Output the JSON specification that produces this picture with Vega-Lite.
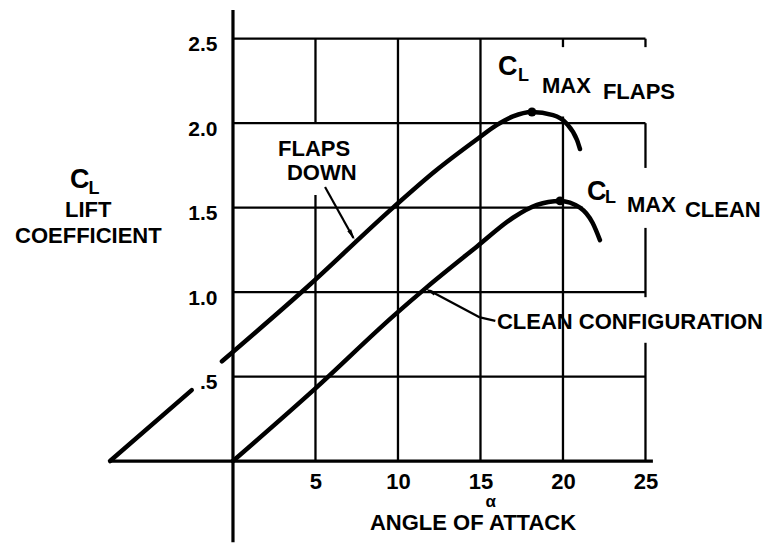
{
  "$schema": "https://vega.github.io/schema/vega-lite/v6.json",
  "width": 775,
  "height": 544,
  "autosize": "none",
  "padding": 0,
  "background": "white",
  "config": {
    "view": {"stroke": null},
    "font": "Liberation Sans",
    "axis": {"title": null, "grid": false, "domain": false, "ticks": false, "tickSize": 0, "labelColor": "black", "labelFont": "Liberation Sans", "labelFontWeight": "bold"}
  },
  "datasets": {
    "segs": [
      {"kind": "grid", "a": 5, "cl": 0, "a2": 5, "cl2": 1.575},
      {"kind": "grid", "a": 5, "cl": 2.0, "a2": 5, "cl2": 2.5},
      {"kind": "grid", "a": 10, "cl": 0, "a2": 10, "cl2": 2.5},
      {"kind": "grid", "a": 15, "cl": 0, "a2": 15, "cl2": 2.5},
      {"kind": "grid", "a": 20, "cl": 0, "a2": 20, "cl2": 2.04},
      {"kind": "grid", "a": 20, "cl": 2.45, "a2": 20, "cl2": 2.5},
      {"kind": "grid", "a": 25, "cl": 0, "a2": 25, "cl2": 0.7},
      {"kind": "grid", "a": 25, "cl": 0.97, "a2": 25, "cl2": 1.38},
      {"kind": "grid", "a": 25, "cl": 1.735, "a2": 25, "cl2": 2.0},
      {"kind": "grid", "a": 25, "cl": 2.45, "a2": 25, "cl2": 2.5},
      {"kind": "grid", "a": 0, "cl": 0.5, "a2": 25, "cl2": 0.5},
      {"kind": "grid", "a": 0, "cl": 1.0, "a2": 25, "cl2": 1.0},
      {"kind": "grid", "a": 0, "cl": 1.5, "a2": 21.2, "cl2": 1.5},
      {"kind": "grid", "a": 0, "cl": 2.0, "a2": 25, "cl2": 2.0},
      {"kind": "grid", "a": 0, "cl": 2.5, "a2": 25, "cl2": 2.5},
      {"kind": "axis", "a": -7.45, "cl": 0, "a2": 25.45, "cl2": 0},
      {"kind": "axis", "a": 0, "cl": -0.48, "a2": 0, "cl2": 2.67},
      {"kind": "leader", "a": 5.58, "cl": 1.622, "a2": 7.3, "cl2": 1.32},
      {"kind": "leader", "a": 11.9, "cl": 1.01, "a2": 14.97, "cl2": 0.85},
      {"kind": "leader", "a": 14.97, "cl": 0.85, "a2": 15.9, "cl2": 0.83}
    ],
    "curves": [
      {"seg": "flaps-1", "a": -7.45, "cl": 0},
      {"seg": "flaps-1", "a": -2.5, "cl": 0.42},
      {"seg": "flaps-2", "a": -0.67, "cl": 0.59},
      {"seg": "flaps-2", "a": 4.5, "cl": 1.03},
      {"seg": "flaps-2", "a": 9.7, "cl": 1.5},
      {"seg": "flaps-2", "a": 12.3, "cl": 1.72},
      {"seg": "flaps-2", "a": 14.79, "cl": 1.905},
      {"seg": "flaps-2", "a": 16.0, "cl": 1.99},
      {"seg": "flaps-2", "a": 16.97, "cl": 2.04},
      {"seg": "flaps-2", "a": 18.1, "cl": 2.066},
      {"seg": "flaps-2", "a": 19.4, "cl": 2.048},
      {"seg": "flaps-2", "a": 20.2, "cl": 2.0},
      {"seg": "flaps-2", "a": 20.85, "cl": 1.9},
      {"seg": "flaps-2", "a": 21.03, "cl": 1.847},
      {"seg": "clean", "a": 0, "cl": 0},
      {"seg": "clean", "a": 5, "cl": 0.43},
      {"seg": "clean", "a": 9.8, "cl": 0.865},
      {"seg": "clean", "a": 11.7, "cl": 1.025},
      {"seg": "clean", "a": 14.79, "cl": 1.27},
      {"seg": "clean", "a": 16.97, "cl": 1.44},
      {"seg": "clean", "a": 18.42, "cl": 1.516},
      {"seg": "clean", "a": 19.82, "cl": 1.54},
      {"seg": "clean", "a": 21.03, "cl": 1.5},
      {"seg": "clean", "a": 21.8, "cl": 1.409},
      {"seg": "clean", "a": 22.24, "cl": 1.308}
    ],
    "peaks": [
      {"name": "CL max flaps", "a": 18.12, "cl": 2.066},
      {"name": "CL max clean", "a": 19.82, "cl": 1.54}
    ],
    "heads": [
      {"name": "flaps down", "a": 7.21, "cl": 1.338},
      {"name": "clean configuration", "a": 11.94, "cl": 1.006}
    ],
    "bigtext": [
      {"t": "C", "a": -9.88, "cl": 1.665},
      {"t": "C", "a": 16.06, "cl": 2.333},
      {"t": "C", "a": 21.45, "cl": 1.593}
    ],
    "subtext": [
      {"t": "L", "a": -8.75, "cl": 1.608},
      {"t": "L", "a": 17.27, "cl": 2.279},
      {"t": "L", "a": 22.55, "cl": 1.557}
    ],
    "alpha": [
      {"t": "α", "a": 15.3, "cl": -0.245}
    ],
    "text": [
      {"t": "LIFT", "a": -10.18, "cl": 1.485},
      {"t": "COEFFICIENT", "a": -13.21, "cl": 1.333},
      {"t": "MAX", "a": 18.73, "cl": 2.22},
      {"t": "FLAPS", "a": 22.42, "cl": 2.185},
      {"t": "MAX", "a": 23.88, "cl": 1.516},
      {"t": "CLEAN", "a": 27.39, "cl": 1.486},
      {"t": "FLAPS", "a": 2.73, "cl": 1.847},
      {"t": "DOWN", "a": 3.27, "cl": 1.705},
      {"t": "CLEAN CONFIGURATION", "a": 16.0, "cl": 0.823},
      {"t": "ANGLE OF ATTACK", "a": 8.3, "cl": -0.367}
    ]
  },
  "encoding": {
    "x": {"field": "a", "type": "quantitative", "scale": {"domain": [-14.12, 32.85], "nice": false, "zero": false},
          "axis": {"orient": "bottom", "offset": -83, "values": [5, 10, 15, 20, 25], "labelPadding": 10, "labelFontSize": 22, "labelBaseline": "top", "labelFlush": false, "labelOverlap": false}},
    "y": {"field": "cl", "type": "quantitative", "scale": {"domain": [-0.491, 2.729], "nice": false, "zero": false},
          "axis": {"orient": "left", "offset": -233, "values": [0.5, 1, 1.5, 2, 2.5], "labelExpr": "datum.value == 0.5 ? '.5' : format(datum.value, '.1f')", "labelPadding": 16, "labelOffset": 6, "labelFontSize": 21, "labelFlush": false, "labelOverlap": false}}
  },
  "layer": [
    {
      "data": {"name": "segs"},
      "transform": [{"filter": "datum.kind == 'grid'"}],
      "mark": {"type": "rule", "color": "black", "strokeWidth": 2.3},
      "encoding": {"x2": {"field": "a2"}, "y2": {"field": "cl2"}}
    },
    {
      "data": {"name": "segs"},
      "transform": [{"filter": "datum.kind == 'axis'"}],
      "mark": {"type": "rule", "color": "black", "strokeWidth": 3.2},
      "encoding": {"x2": {"field": "a2"}, "y2": {"field": "cl2"}}
    },
    {
      "data": {"name": "segs"},
      "transform": [{"filter": "datum.kind == 'leader'"}],
      "mark": {"type": "rule", "color": "black", "strokeWidth": 2.2},
      "encoding": {"x2": {"field": "a2"}, "y2": {"field": "cl2"}}
    },
    {
      "data": {"name": "curves"},
      "mark": {"type": "line", "color": "black", "strokeWidth": 4.5, "interpolate": "monotone", "strokeCap": "round"},
      "encoding": {"detail": {"field": "seg", "type": "nominal"}}
    },
    {
      "data": {"name": "peaks"},
      "mark": {"type": "point", "shape": "circle", "filled": true, "color": "black", "size": 80, "opacity": 1}
    },
    {
      "data": {"name": "heads"},
      "transform": [{"filter": "datum.name == 'flaps down'"}],
      "mark": {"type": "point", "shape": "M0,-1L0.4,1L-0.4,1Z", "filled": true, "color": "black", "size": 120, "opacity": 1, "angle": 150}
    },
    {
      "data": {"name": "heads"},
      "transform": [{"filter": "datum.name == 'clean configuration'"}],
      "mark": {"type": "point", "shape": "M0,-1L0.4,1L-0.4,1Z", "filled": true, "color": "black", "size": 120, "opacity": 1, "angle": 298}
    },
    {
      "data": {"name": "bigtext"},
      "mark": {"type": "text", "align": "left", "baseline": "middle", "font": "Liberation Sans", "fontWeight": "bold", "fontSize": 27, "color": "black"},
      "encoding": {"text": {"field": "t"}}
    },
    {
      "data": {"name": "subtext"},
      "mark": {"type": "text", "align": "left", "baseline": "middle", "font": "Liberation Sans", "fontWeight": "bold", "fontSize": 18, "color": "black"},
      "encoding": {"text": {"field": "t"}}
    },
    {
      "data": {"name": "alpha"},
      "mark": {"type": "text", "align": "left", "baseline": "middle", "font": "Liberation Sans", "fontWeight": "bold", "fontSize": 17, "color": "black"},
      "encoding": {"text": {"field": "t"}}
    },
    {
      "data": {"name": "text"},
      "mark": {"type": "text", "align": "left", "baseline": "middle", "font": "Liberation Sans", "fontWeight": "bold", "fontSize": 22, "color": "black"},
      "encoding": {"text": {"field": "t"}}
    }
  ]
}
